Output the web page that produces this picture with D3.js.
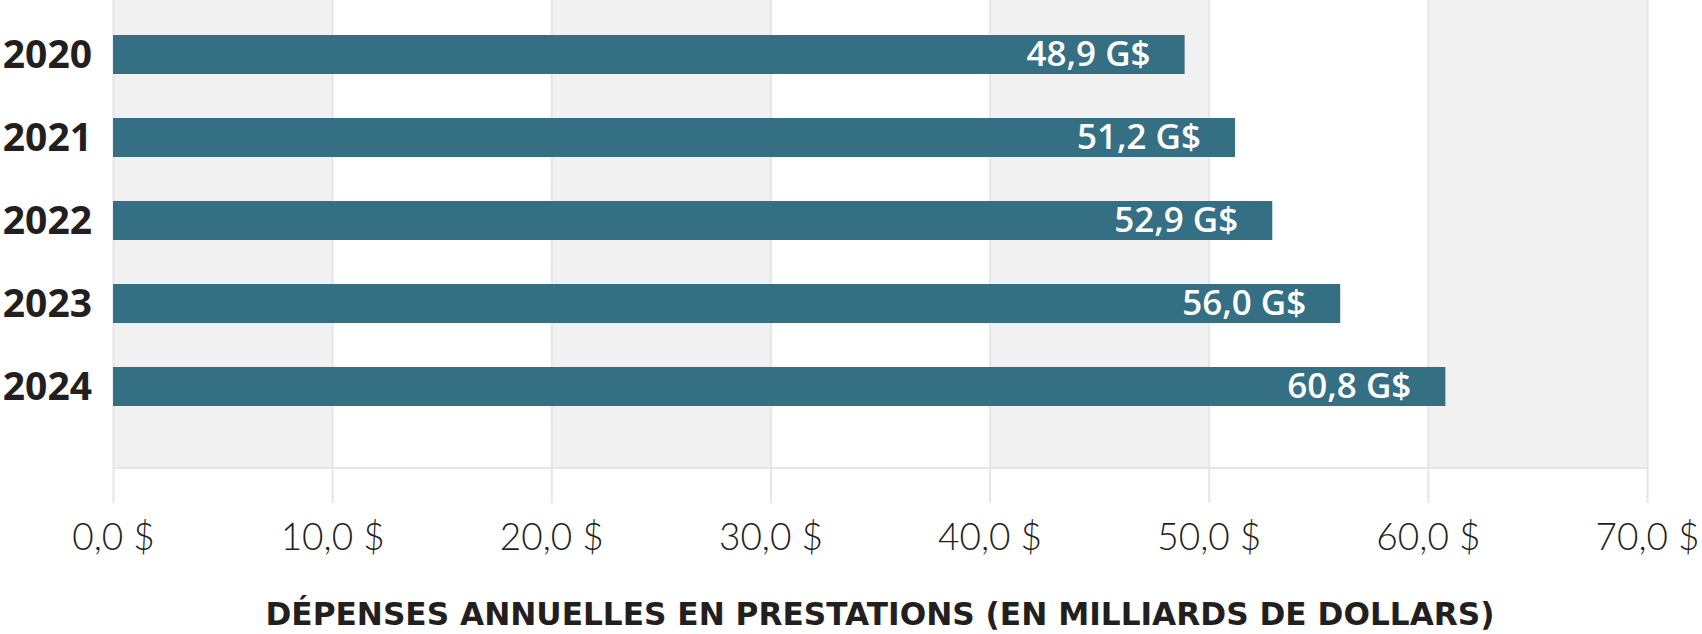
<!DOCTYPE html>
<html>
<head>
<meta charset="utf-8">
<script src="https://cdn.jsdelivr.net/npm/d3@7"></script>
<style>
  body { margin: 0; background: #fff; }
  svg { display: block; font-family: 'Open Sans', sans-serif; }
</style>
</head>
<body>
<div id="chart"></div>
<script>
// data
var years = ['2020', '2021', '2022', '2023', '2024']
var spending = [48.9, 51.2, 52.9, 56.0, 60.8]
var xticks = [0, 10, 20, 30, 40, 50, 60, 70]
var axisTitle = 'DÉPENSES ANNUELLES EN PRESTATIONS (EN MILLIARDS DE DOLLARS)'

// svg dimensions
var w = 1702,
    h = 634,
    left = 113,
    right = 1647,
    plotBottom = 468,
    tickBottom = 503,
    ink = '#231f20'

var fmt = d => d.toFixed(1).replace('.', ',')

var svg = d3.select('#chart')
    .append('svg')
    .attr('width', w)
    .attr('height', h)

// scale
var xscale = d3.scaleLinear()
    .domain([0, 70])
    .range([left, right])

var yscale = d3.scaleBand()
    .domain(years)
    .range([13, 428])
    .paddingInner(0.53)
    .paddingOuter(0.265)

// alternating bands
svg.selectAll('rect.band')
    .data(xticks.slice(0, -1).filter((d, i) => i % 2 == 0))
    .enter()
    .append('rect')
    .attr('class', 'band')
    .attr('x', d => xscale(d))
    .attr('y', 0)
    .attr('width', d => xscale(d + 10) - xscale(d))
    .attr('height', plotBottom)
    .attr('fill', '#f1f1f1')

// axis (grid lines + labels)
var xaxis = d3.axisBottom(xscale)
    .tickValues(xticks)
    .tickFormat(d => fmt(d) + ' $')
    .tickSize(tickBottom)
    .tickSizeOuter(0)

var gx = svg.append('g')
    .call(xaxis)
gx.select('.domain').remove()
gx.selectAll('.tick line')
    .attr('stroke', '#e6e6e6')
    .attr('stroke-width', 2)
gx.selectAll('.tick text')
    .attr('y', 550)
    .attr('dy', 0)
    .attr('fill', ink)
    .attr('font-family', 'Lato, sans-serif')
    .attr('font-size', 37)
    .attr('font-weight', 300)

svg.append('line')
    .attr('x1', xscale(0))
    .attr('x2', xscale(70))
    .attr('y1', plotBottom)
    .attr('y2', plotBottom)
    .attr('stroke', '#e6e6e6')
    .attr('stroke-width', 2)

// bars
svg.selectAll('rect.bar')
    .data(spending)
    .enter()
    .append('rect')
    .attr('class', 'bar')
    .attr('x', xscale(0))
    .attr('y', (d, i) => yscale(years[i]))
    .attr('width', d => xscale(d) - xscale(0))
    .attr('height', yscale.bandwidth())
    .attr('fill', '#346f84')

// value labels
svg.selectAll('text.val')
    .data(spending)
    .enter()
    .append('text')
    .attr('class', 'val')
    .text(d => fmt(d) + ' G$')
    .attr('x', d => xscale(d) - 34)
    .attr('y', (d, i) => yscale(years[i]) + yscale.bandwidth() / 2 + 11)
    .attr('text-anchor', 'end')
    .attr('fill', '#fff')
    .attr('font-size', 35)
    .attr('font-weight', 600)

// year labels
svg.selectAll('text.year')
    .data(years)
    .enter()
    .append('text')
    .attr('class', 'year')
    .text(d => d)
    .attr('x', 92)
    .attr('y', d => yscale(d) + yscale.bandwidth() / 2 + 13)
    .attr('text-anchor', 'end')
    .attr('fill', ink)
    .attr('font-size', 39)
    .attr('font-weight', 700)

// axis title
svg.append('text')
    .text(axisTitle)
    .attr('x', (left + right) / 2)
    .attr('y', 625)
    .attr('text-anchor', 'middle')
    .attr('fill', ink)
    .attr('font-family', "'DejaVu Sans', sans-serif")
    .attr('font-size', 31.2)
    .attr('font-weight', 700)
</script>
</body>
</html>
